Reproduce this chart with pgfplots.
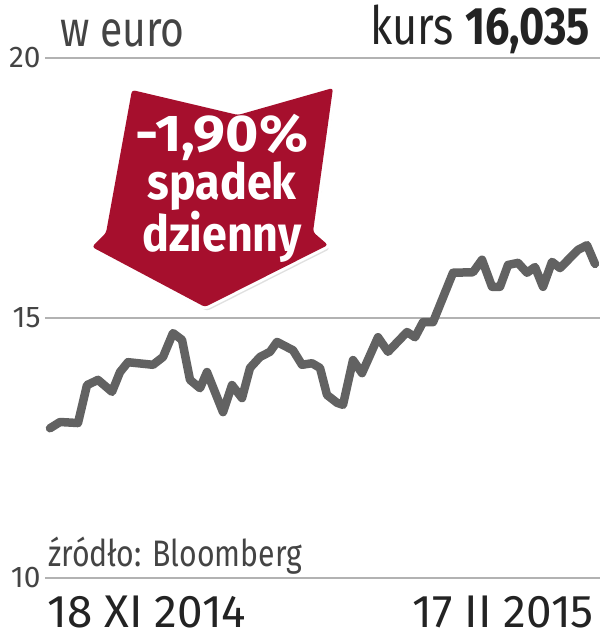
\documentclass[border=0pt]{standalone}
\usepackage{pgfplots}
\pgfplotsset{compat=1.18}
\usepackage{fontspec}
\setmainfont{Fira Sans}
\newfontfamily\cond{Fira Sans}[FakeStretch=0.82]
\newfontfamily\semicond{Fira Sans}[FakeStretch=0.9]
\newfontfamily\wide{Fira Sans}[FakeStretch=1.1]
\definecolor{linegray}{RGB}{98,98,98}
\definecolor{gridgray}{RGB}{178,178,178}
\definecolor{arrowred}{RGB}{166,15,45}
\definecolor{txt}{RGB}{35,35,35}

\begin{document}
\begin{tikzpicture}
\begin{axis}[
  x=1bp, y=52bp,
  xmin=45, xmax=600, ymin=10, ymax=20,
  axis line style={draw=none},
  xtick=\empty,
  ytick={10,15,20},
  ymajorgrids,
  major grid style={gridgray, line width=1.6bp},
  major tick length=0pt,
  yticklabel style={font=\fontsize{30}{30}\selectfont, text=txt!85, anchor=east, xshift=-1bp},
  /pgf/number format/assume math mode=true,
  clip=false,
]
\addplot[linegray, line width=8.5bp, line join=round, line cap=round] coordinates {
(50,12.88) (60,13.00) (78,12.98) (87,13.71) (98,13.81) (112,13.58)
(120,13.96) (128,14.15) (153,14.10) (163,14.25) (173,14.71) (182,14.58)
(190,13.81) (200,13.65) (207,13.96) (223,13.19) (232,13.71) (242,13.46)
(250,14.04) (260,14.25) (270,14.35) (277,14.54) (293,14.38) (302,14.10)
(312,14.13) (320,14.04) (327,13.52) (337,13.37) (343,13.33) (353,14.19)
(362,13.94) (378,14.63) (388,14.35) (407,14.73) (415,14.63) (423,14.92)
(433,14.92) (453,15.87) (473,15.88) (482,16.12) (492,15.60) (500,15.60)
(508,16.02) (518,16.06) (527,15.87) (535,15.98) (543,15.60) (552,16.08)
(560,15.96) (578,16.31) (587,16.40) (595,16.04)
};
\coordinate (O) at (axis cs:0,{20+58/52});
\coordinate (E) at (axis cs:600,{20-582/52});
\end{axis}

\begin{scope}[shift={(O)}, x=1bp, y=-1bp]
  % arrow annotation
  \def\arrowpath{(132,90) -- (238,115) -- (333,88) -- (313,232) -- (328,245) -- (205,307) -- (92,247) -- (106,233) -- cycle}
  \fill[black, opacity=0.12, rounded corners=3bp, xshift=2bp, yshift=-4bp] \arrowpath;
  \draw[white, line width=6bp, rounded corners=3bp, line join=round] \arrowpath;
  \fill[arrowred, rounded corners=3bp] \arrowpath;
  \node[anchor=base, text=white, inner sep=0, align=center] at (222,252)
    {{\wide\bfseries\fontsize{52}{41}\selectfont -1,90\%}\\
     {\semicond\bfseries\fontsize{50}{41}\selectfont spadek}\\
     {\semicond\bfseries\fontsize{50}{41}\selectfont dzienny}};
  % header and footer texts
  \node[anchor=base west, inner sep=0, text=txt!85, font=\cond\fontsize{50}{50}\selectfont] at (60,47) {w euro};
  \node[anchor=base east, inner sep=0, text=txt, font=\cond\fontsize{53}{53}\selectfont] at (590,45) {kurs\hspace{11bp}\textbf{16,035}};
  \node[anchor=base west, inner sep=0, text=txt!85, font=\cond\fontsize{37}{37}\selectfont] at (48,567) {źródło: Bloomberg};
  \node[anchor=base west, inner sep=0, text=txt, font=\fontsize{46}{46}\selectfont] at (47,628) {18 XI 2014};
  \node[anchor=base east, inner sep=0, text=txt, font=\fontsize{46}{46}\selectfont] at (594,628) {17 II 2015};
\end{scope}
\pgfresetboundingbox
\path (O) rectangle (E);
\end{tikzpicture}
\end{document}
